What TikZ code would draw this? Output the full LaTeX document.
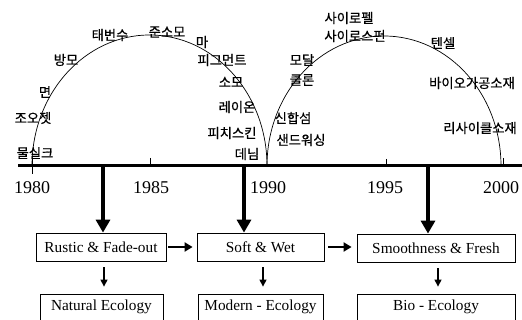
\documentclass[tikz,border=0pt]{standalone}
\usepackage{fontspec}
\setmainfont{Liberation Serif}
\newfontfamily\kr[FakeBold=0.6]{Noto Sans CJK KR}
\usetikzlibrary{arrows.meta}
\begin{document}
\begin{tikzpicture}[x=1pt,y=-1pt,
  kor/.style={font=\kr\fontsize{13.3}{14}\selectfont, inner sep=0pt},
  yr/.style={font=\fontsize{18}{19}\selectfont, inner sep=0pt},
  box/.style={draw, line width=0.8pt, minimum height=28pt, inner sep=0pt, font=\fontsize{15.3}{16}\selectfont},
  lowbox/.style={draw, line width=0.8pt, minimum height=36pt, inner sep=0pt, font=\fontsize{15.3}{16}\selectfont},
  bigarrow/.style={line width=3.2pt, -{Triangle[width=14pt,length=13pt]}},
  midarrow/.style={line width=2.4pt, -{Triangle[width=9pt,length=8pt]}},
  smallarrow/.style={line width=1.2pt, -{Triangle[width=7pt,length=7pt]}},
  arcline/.style={line width=0.7pt},
  tick/.style={line width=0.7pt}
]
\useasboundingbox (0,0) rectangle (522,320);
\clip (0,0) rectangle (522,320);
\fill[white] (0,0) rectangle (522,320);

% arcs
\draw[arcline] (32,166) arc[start angle=180,end angle=360,x radius=117.5,y radius=131];
\draw[arcline] (267,166) arc[start angle=180,end angle=360,x radius=117,y radius=130];

% timeline
\coordinate (L) at (18,166);
\coordinate (R) at (522,166);
\draw[line width=3pt] (L) -- (R);
\draw[tick] (32,158) -- (32,174);
\draw[tick] (150,158) -- (150,166);
\draw[tick] (386,159) -- (386,166);
\draw[tick] (503,158) -- (503,166);

% years
\node[yr] (y80) at (32,188) {1980};
\node[yr] (y85) at (151,188) {1985};
\node[yr] (y90) at (268,188) {1990};
\node[yr] (y95) at (385,188) {1995};
\node[yr] (y00) at (501,188) {2000};

% Korean labels, left arc
\node[kor] (k1) at (35,153) {물실크};
\node[kor] (k2) at (33,118) {조오젯};
\node[kor] (k3) at (45,92) {면};
\node[kor] (k4) at (66,60) {방모};
\node[kor] (k5) at (110,35) {태번수};
\node[kor] (k6) at (167,32) {준소모};
\node[kor] (k7) at (202,42) {마};
\node[kor] (k8) at (222,60) {피그먼트};
\node[kor] (k9) at (231,82) {소모};
\node[kor] (k10) at (237,107) {레이온};
\node[kor] (k11) at (232,133) {피치스킨};
\node[kor] (k12) at (247,154) {데님};

% Korean labels, right arc
\node[kor] (r1) at (349,18) {사이로펠};
\node[kor] (r2) at (355,36) {사이로스펀};
\node[kor] (r3) at (443,43) {텐셀};
\node[kor] (r4) at (302,60) {모달};
\node[kor] (r5) at (302,80) {쿨론};
\node[kor] (r6) at (472,83) {바이오가공소재};
\node[kor] (r7) at (293,118) {신합섬};
\node[kor] (r8) at (301,140) {샌드워싱};
\node[kor] (r9) at (480,128) {리사이클소재};

% boxes
\node[box, minimum width=130pt] (b1) at (101,247) {Rustic \& Fade-out};
\node[box, minimum width=127pt] (b2) at (260.5,247) {Soft \& Wet};
\node[box, minimum width=158pt] (b3) at (436,248) {Smoothness \& Fresh};

\node[lowbox, minimum width=123pt] (n1) at (101.5,312) {};
\node[lowbox, minimum width=125pt] (n2) at (260.5,312) {};
\node[lowbox, minimum width=158pt] (n3) at (436,312) {};
\node[font=\fontsize{15.3}{16}\selectfont, inner sep=0pt] (t1) at (101.5,307) {Natural Ecology};
\node[font=\fontsize{15.3}{16}\selectfont, inner sep=0pt] (t2) at (260.5,307) {Modern - Ecology};
\node[font=\fontsize{15.3}{16}\selectfont, inner sep=0pt] (t3) at (436,307) {Bio - Ecology};

% thick arrows from timeline
\coordinate (a1) at (103,166);
\coordinate (a2) at (244,166);
\coordinate (a3) at (428,166);
\draw[bigarrow] (a1) -- (a1 |- b1.north);
\draw[bigarrow] (a2) -- (a2 |- b2.north);
\draw[bigarrow] (a3) -- (a3 |- b3.north);

% horizontal arrows
\draw[midarrow, shorten <=2pt, shorten >=4pt] (b1.east) -- (b2.west);
\draw[midarrow, shorten <=4pt, shorten >=5pt] (b2.east |- 0,247) -- (b3.west |- 0,247);

% small arrows
\coordinate (s1) at (104,0);
\coordinate (s2) at (263,0);
\coordinate (s3) at (438,0);
\draw[smallarrow, shorten <=6pt, shorten >=7pt] (s1 |- b1.south) -- (s1 |- n1.north);
\draw[smallarrow, shorten <=6pt, shorten >=7pt] (s2 |- b2.south) -- (s2 |- n2.north);
\draw[smallarrow, shorten <=6pt, shorten >=7pt] (s3 |- b3.south) -- (s3 |- n3.north);
\end{tikzpicture}
\end{document}
